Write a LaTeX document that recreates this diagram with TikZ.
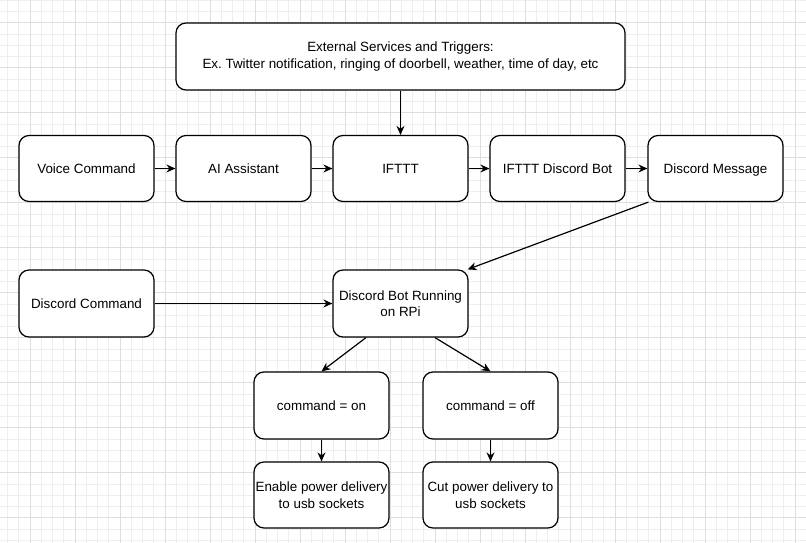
\documentclass[tikz,border=0pt]{standalone}
\usepackage{fontspec}
\setmainfont{Liberation Sans}
\usepackage{xcolor}
\usepackage{tikz}
\usetikzlibrary{calc,arrows.meta}

\definecolor{minorgrid}{RGB}{238,238,238}
\definecolor{majorgrid}{RGB}{222,222,222}

\tikzset{
  box/.style={draw=black, line width=1.2pt, rounded corners=10pt, fill=white,
    minimum width=135pt, minimum height=66pt, inner sep=0pt, align=center,
    font=\fontsize{13.4}{16.5}\selectfont\frenchspacing},
  onebox/.style={box, text height=9.6pt, text depth=0pt},
  flow/.style={line width=1.2pt, -{Stealth[length=9pt,width=8pt]}},
}

\begin{document}
\begin{tikzpicture}[x=1pt,y=-1pt]
                \useasboundingbox (0,0) rectangle (806,543);
                \fill [white] (0,0) rectangle (806,543);
                % grid
                \foreach \i in {0,...,71}
                    \draw [minorgrid, line width=0.8pt] ({7.5+11.25*\i},0) -- ++(0,543);
                \foreach \i in {0,...,48}
                    \draw [minorgrid, line width=0.8pt] (0,{0.2+11.25*\i}) -- ++(806,0);
                \foreach \i in {0,...,17}
                    \draw [majorgrid, line width=0.8pt] ({30+45*\i},0) -- ++(0,543);
                \foreach \i in {0,...,11}
                    \draw [majorgrid, line width=0.8pt] (0,{22.7+45*\i}) -- ++(806,0);
                % boxes
                \node [box, minimum width=449pt, minimum height=67pt] (ext) at (400.5,56.5)
                    {External Services and Triggers:\\Ex. Twitter notification, ringing of doorbell, weather, time of day, etc};
                \node [onebox] (voice) at (86.5,168.5) {Voice Command};
                \node [onebox] (ai) at (243.5,168.5) {AI Assistant};
                \node [onebox] (ifttt) at (400.5,168.5) {IFTTT};
                \node [onebox] (iftttbot) at (557.5,168.5) {IFTTT Discord Bot};
                \node [onebox] (msg) at (715.5,168.5) {Discord Message};
                \node [onebox, minimum height=67pt] (dcmd) at (86.5,303.5) {Discord Command};
                \node [box, minimum height=67pt] (rpi) at (400.5,303.5) {Discord Bot Running\\on RPi};
                \node [onebox, minimum height=67pt] (on) at (321.5,405.5) {command = on};
                \node [onebox, minimum height=67pt] (off) at (490.5,405.5) {command = off};
                \node [box] (enable) at (321.5,495) {Enable power delivery\\to usb sockets};
                \node [box] (cut) at (490.5,495) {Cut power delivery to\\usb sockets};
                % connectors
                \draw [flow] (ext) -- (ifttt);
                \draw [flow] (voice) -- (ai);
                \draw [flow] (ai) -- (ifttt);
                \draw [flow] (ifttt) -- (iftttbot);
                \draw [flow] (iftttbot) -- (msg);
                \draw [flow] ($(msg.south west)+(1,0)$) -- ($(rpi.north east)+(-1,0)$);
                \draw [flow] (dcmd) -- (rpi);
                \draw [flow] ($(rpi.south)+(-34.5,0)$) -- (on.north);
                \draw [flow] ($(rpi.south)+(34.5,0)$) -- (off.north);
                \draw [flow] (on) -- (enable);
                \draw [flow] (off) -- (cut);
\end{tikzpicture}
\end{document}
